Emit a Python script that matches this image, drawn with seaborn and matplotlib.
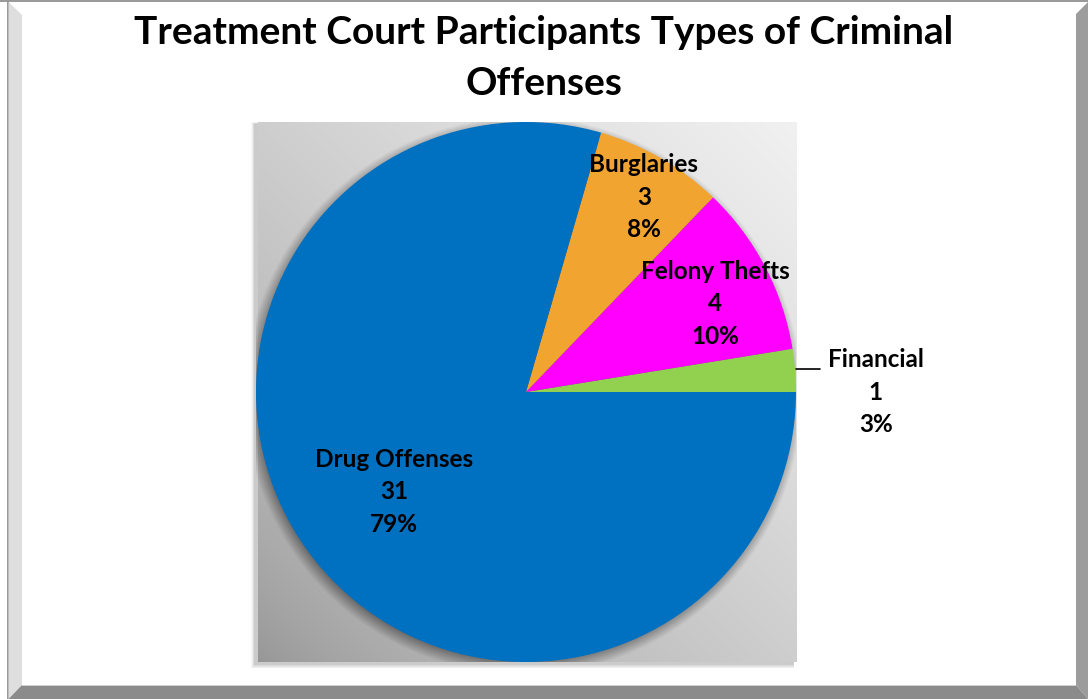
import numpy as np
import matplotlib
matplotlib.use("Agg")
import matplotlib.pyplot as plt
from matplotlib.patches import Polygon, Rectangle
import seaborn as sns

# Offense categories and participant counts
categories = ["Financial", "Felony Thefts", "Burglaries", "Drug Offenses"]
counts = [1, 4, 3, 31]
slice_colors = ["#92D050", "#FF00FF", "#F2A431", "#0070C0"]
title_text = "Treatment Court Participants Types of Criminal\nOffenses"

sns.set_theme(style="white")
plt.rcParams["font.family"] = ["Lato", "DejaVu Sans"]

W, H = 1088, 699
fig = plt.figure(figsize=(W / 100, H / 100), dpi=100)
fig.patch.set_facecolor("white")

# Pixel-space canvas for the frame, plot-area gradient and shadows
bg = fig.add_axes([0, 0, 1, 1], zorder=0)
bg.set_xlim(0, W)
bg.set_ylim(H, 0)
bg.axis("off")

# Outer frame: thin top line, light bevel on the left, dark bands bottom/right
bg.add_patch(Rectangle((0, 0), W, 2, color="#9a9a9a", lw=0))
bg.add_patch(Rectangle((7, 0), 1.5, H, color="#9a9a9a", lw=0))
bg.add_patch(Polygon([(8.5, 2), (22, 15), (22, 685), (8.5, 699)], closed=True,
                     color="#dedede", lw=0))
bg.add_patch(Polygon([(8.5, 699), (22, 685), (1076, 685), (1088, 699)], closed=True,
                     color="#8b8b8b", lw=0))
bg.add_patch(Polygon([(1076, 14), (1088, 2), (1088, 699), (1076, 685)], closed=True,
                     color="#9c9c9c", lw=0))
bg.add_patch(Rectangle((22, 684.5), 1054, 1.2, color="#d0d0d0", lw=0))

# Plot area: soft drop shadow then diagonal grey gradient
px0, px1, py0, py1 = 258, 797, 122, 662
for k in range(1, 7):
    bg.add_patch(Rectangle((px0 - 3 - k * 0.6, py0 + 2 - k * 0.3),
                           (px1 - px0) + k * 0.6, (py1 - py0) + k * 1.0,
                           color="black", alpha=0.035, lw=0))
gx = np.linspace(0, 1, 300)
gy = np.linspace(1, 0, 300)
GX, GY = np.meshgrid(gx, gy)
t = np.clip((GX + GY) / 2, 0, 1) ** 0.7
grey = (150 + (241 - 150) * t) / 255
grad = np.dstack([grey, grey, grey])
bg.imshow(grad, extent=(px0, px1, py1, py0), aspect="auto", zorder=1,
          interpolation="bilinear")

# Title
fig.text(0.5, 1 - 58 / H, title_text, ha="center", va="center",
         fontsize=28, fontweight="bold", color="black", linespacing=1.58)

# Pie axes
cx, cy, R = 526, 392, 270
ax = fig.add_axes([(cx - R) / W, (H - cy - R) / H, 2 * R / W, 2 * R / H], zorder=2)
ax.set_xlim(-1, 1)
ax.set_ylim(-1, 1)
ax.set_aspect("equal")
ax.axis("off")
ax.patch.set_alpha(0)

# Soft shadow under the pie, offset down-left
sx = np.linspace(-1.1, 1.1, 500)
SX, SY = np.meshgrid(sx, sx[::-1])
d = np.hypot(SX + 0.01, SY + 0.014)
blur = 0.035
alpha = np.clip((1.0 + blur - d) / (2 * blur), 0, 1) * 0.55
shadow = np.zeros((500, 500, 4))
shadow[..., 3] = alpha
ax.imshow(shadow, extent=(-1.1, 1.1, -1.1, 1.1), zorder=0, interpolation="bilinear")

wedges, _ = ax.pie(counts, colors=slice_colors, startangle=0, counterclock=True,
                   radius=1, wedgeprops=dict(linewidth=0))
for w in wedges:
    w.set_zorder(1)
ax.set_xlim(-1, 1)
ax.set_ylim(-1, 1)

total = sum(counts)
label_pos = {
    "Financial": (1.296, 0.0),
    "Felony Thefts": (0.70, 0.326),
    "Burglaries": (0.437, 0.722),
    "Drug Offenses": (-0.489, -0.370),
}
for cat, n in zip(categories, counts):
    pct = int(round(100 * n / total))
    x, y = label_pos[cat]
    ax.text(x, y, f"{cat}\n{n}\n{pct}%", ha="center", va="center",
            fontsize=17.5, fontweight="bold", color="black", linespacing=1.5,
            zorder=3, clip_on=False)

# Leader line for the thin Financial slice
ax.plot([1.0, 1.089], [0.085, 0.085], color="black", lw=1.2, zorder=3,
        clip_on=False)

fig.savefig("out.png", dpi=100)
